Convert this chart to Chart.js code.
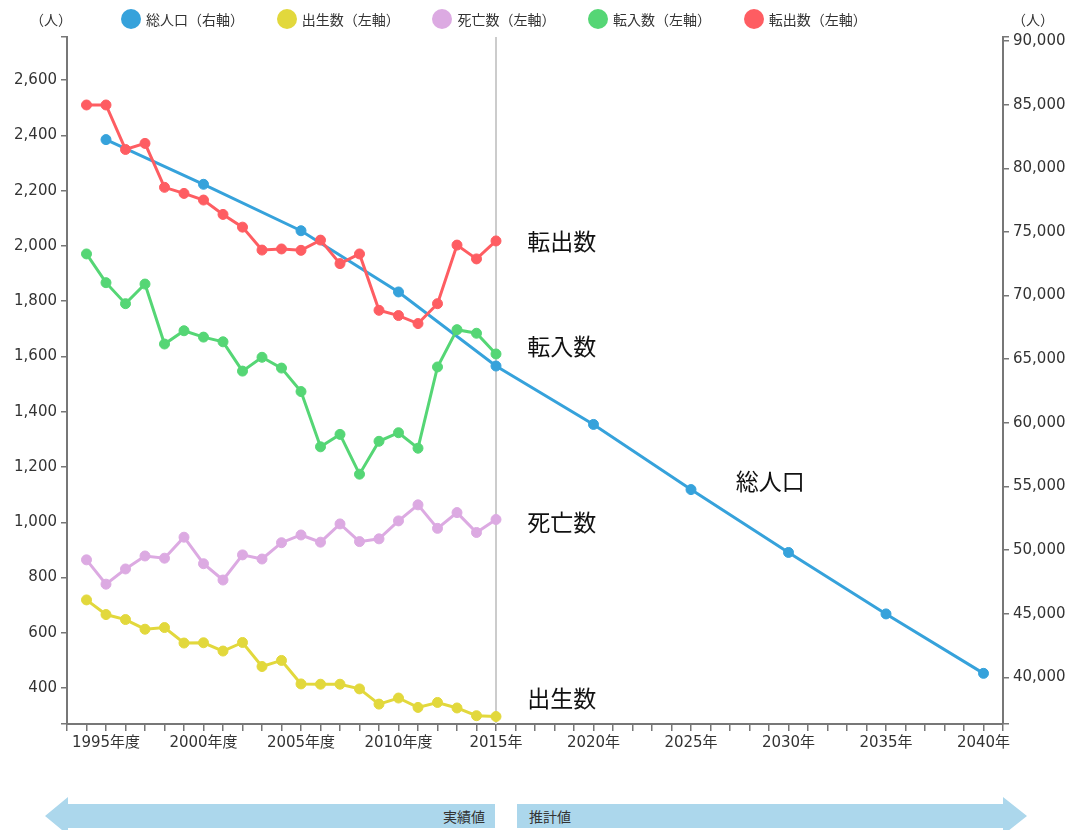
<!DOCTYPE html>
<html lang="ja">
<head>
<meta charset="UTF-8">
<title>人口の推移</title>
<script src="https://cdn.jsdelivr.net/npm/chart.js"></script>
<style>
    body {
        margin: 0;
        background: #fff;
        font-family: 'Noto Sans CJK JP', 'DejaVu Sans', sans-serif;
    }
    #wrap {
        position: relative;
        width: 1074px;
        height: 830px;
        overflow: hidden;
    }
    #chart {
        position: absolute;
        left: 0;
        top: 0;
    }
    .unit {
        position: absolute;
        top: 9px;
        font-size: 14px;
        color: #333;
        line-height: 20px;
    }
    .legend-item {
        position: absolute;
        top: 9px;
        height: 20px;
        font-size: 14px;
        line-height: 20px;
        color: #333;
        white-space: nowrap;
    }
    .legend-item span.dot {
        display: inline-block;
        width: 20px;
        height: 20px;
        border-radius: 50%;
        vertical-align: top;
        margin-right: 5px;
    }
    .arrow {
        position: absolute;
        top: 797px;
        height: 38px;
        background: #acd7ec;
        font-size: 14px;
        line-height: 38px;
        color: #333;
    }
    #past {
        left: 45px;
        width: 450px;
        text-align: right;
        clip-path: polygon(0 19px, 23px 0, 23px 7px, 450px 7px, 450px 31px, 23px 31px, 23px 38px);
    }
    #past span { padding-right: 10px; }
    #future {
        left: 517px;
        width: 510px;
        clip-path: polygon(0 7px, 486px 7px, 486px 0, 510px 19px, 486px 38px, 486px 31px, 0 31px);
    }
    #future span { padding-left: 12px; }
</style>
</head>
<body>
<div id="wrap">
    <canvas id="chart" width="1074" height="830"></canvas>
    <div class="unit" style="left:30px">（人）</div>
    <div class="unit" style="left:1012px">（人）</div>
    <div id="legend"></div>
    <div class="arrow" id="past"><span>実績値</span></div>
    <div class="arrow" id="future"><span>推計値</span></div>
</div>

<script>
    // 実績値（年度）
    const actualYears = [1994, 1995, 1996, 1997, 1998, 1999, 2000, 2001, 2002, 2003, 2004,
                         2005, 2006, 2007, 2008, 2009, 2010, 2011, 2012, 2013, 2014, 2015];
    const births  = [719, 666, 648, 613, 619, 563, 564, 534, 565, 478, 500,
                     415, 414, 414, 397, 342, 364, 330, 348, 328, 300, 297];
    const deaths  = [864, 776, 831, 878, 870, 946, 850, 791, 882, 867, 926,
                     954, 928, 994, 930, 940, 1005, 1063, 978, 1035, 963, 1010];
    const moveIn  = [1971, 1867, 1791, 1862, 1645, 1693, 1670, 1653, 1547, 1597, 1558,
                     1473, 1273, 1318, 1174, 1293, 1324, 1268, 1562, 1697, 1684, 1609];
    const moveOut = [2510, 2510, 2349, 2371, 2212, 2190, 2166, 2114, 2068, 1985, 1989,
                     1984, 2021, 1936, 1971, 1767, 1748, 1719, 1791, 2003, 1953, 2018];

    // 総人口（5年ごと、2015年以降は推計）
    const popYears = [1995, 2000, 2005, 2010, 2015, 2020, 2025, 2030, 2035, 2040];
    const population = [82250, 78740, 75090, 70280, 64460, 59870, 54750, 49810, 44980, 40310];

    const lastActualYear = 2015;

    // 軸の目盛
    const leftTicks = [400, 600, 800, 1000, 1200, 1400, 1600, 1800, 2000, 2200, 2400, 2600];
    const rightTicks = [40000, 45000, 50000, 55000, 60000, 65000, 70000, 75000, 80000, 85000, 90000];
    const yearLabelStep = 5;

    const seriesNames = ['総人口（右軸）', '出生数（左軸）', '死亡数（左軸）', '転入数（左軸）', '転出数（左軸）'];
    const seriesColors = ['#36a2db', '#e2d83c', '#dcaae2', '#55d675', '#fe5d62'];

    // 系列の右側に置く名前
    const endLabels = [
        { text: '転出数', year: 2016.6, value: 2017, axis: 'yL' },
        { text: '転入数', year: 2016.6, value: 1637, axis: 'yL' },
        { text: '死亡数', year: 2016.6, value: 1000, axis: 'yL' },
        { text: '出生数', year: 2016.6, value: 363, axis: 'yL' },
        { text: '総人口', year: 2027.3, value: 55380, axis: 'yR' }
    ];

    function toPoints(xs, ys) {
        return xs.map((x, i) => ({ x: x, y: ys[i] }));
    }

    // 凡例
    const legend = document.getElementById('legend');
    seriesNames.forEach((name, i) => {
        let item = document.createElement('div');
        item.className = 'legend-item';
        item.style.left = (121 + i * 155.7) + 'px';
        item.innerHTML = `<span class="dot" style="background:${seriesColors[i]}"></span>${name}`;
        legend.appendChild(item);
    });

    Chart.defaults.font.family = "'DejaVu Sans', 'Noto Sans CJK JP', sans-serif";
    Chart.defaults.color = '#333';

    function lineSet(label, data, color, axis, order) {
        return {
            label: label,
            data: data,
            yAxisID: axis,
            borderColor: color,
            backgroundColor: color,
            borderWidth: 3,
            pointRadius: 5,
            pointBorderWidth: 1,
            pointBorderColor: color,
            pointBackgroundColor: color,
            tension: 0,
            order: order
        };
    }

    // 2015年の区切り線
    const dividerLine = {
        id: 'dividerLine',
        beforeDatasetsDraw(chart) {
            const x = chart.scales.x.getPixelForValue(lastActualYear);
            const { top, bottom } = chart.chartArea;
            const ctx = chart.ctx;
            ctx.save();
            ctx.strokeStyle = '#cccccc';
            ctx.lineWidth = 2;
            ctx.beginPath();
            ctx.moveTo(x, top);
            ctx.lineTo(x, bottom);
            ctx.stroke();
            ctx.restore();
        }
    };

    const seriesLabels = {
        id: 'seriesLabels',
        afterDatasetsDraw(chart) {
            const ctx = chart.ctx;
            ctx.save();
            ctx.font = "23px 'Noto Sans CJK JP'";
            ctx.fillStyle = '#111';
            ctx.textAlign = 'left';
            ctx.textBaseline = 'middle';
            endLabels.forEach(l => {
                const x = chart.scales.x.getPixelForValue(l.year);
                const y = chart.scales[l.axis].getPixelForValue(l.value);
                ctx.fillText(l.text, x, y);
            });
            ctx.restore();
        }
    };

    const axisColor = '#777';

    function fixedTicks(values) {
        return function (scale) {
            const list = [scale.min].concat(values).concat([scale.max]);
            scale.ticks = list.map(v => ({ value: v }));
        };
    }

    const ctx = document.getElementById('chart').getContext('2d');
    const chart = new Chart(ctx, {
        type: 'line',
        data: {
            datasets: [
                lineSet(seriesNames[0], toPoints(popYears, population), seriesColors[0], 'yR', 5),
                lineSet(seriesNames[1], toPoints(actualYears, births), seriesColors[1], 'yL', 4),
                lineSet(seriesNames[2], toPoints(actualYears, deaths), seriesColors[2], 'yL', 3),
                lineSet(seriesNames[3], toPoints(actualYears, moveIn), seriesColors[3], 'yL', 2),
                lineSet(seriesNames[4], toPoints(actualYears, moveOut), seriesColors[4], 'yL', 1)
            ]
        },
        options: {
            responsive: false,
            animation: false,
            layout: { padding: { top: 37, bottom: 76, left: 0, right: 0 } },
            plugins: {
                legend: { display: false },
                tooltip: { enabled: false }
            },
            scales: {
                x: {
                    type: 'linear',
                    min: 1993,
                    max: 2041,
                    afterFit: s => { s.height = 30; },
                    border: { display: true, color: axisColor, width: 2 },
                    grid: { drawOnChartArea: false, drawTicks: true, tickLength: 7, color: axisColor, lineWidth: 1.5 },
                    ticks: {
                        stepSize: 1,
                        maxTicksLimit: 100,
                        autoSkip: false,
                        maxRotation: 0,
                        padding: 3,
                        font: { size: 15 },
                        callback: function (v) {
                            if (v % yearLabelStep !== 0) return '';
                            return v <= 2010 ? v + '年度' : v + '年';
                        }
                    }
                },
                yL: {
                    type: 'linear',
                    position: 'left',
                    min: 270,
                    max: 2756,
                    afterFit: s => { s.width = 67; },
                    afterBuildTicks: fixedTicks(leftTicks),
                    border: { display: true, color: axisColor, width: 2 },
                    grid: { drawOnChartArea: false, drawTicks: true, tickLength: 6, color: axisColor, lineWidth: 1.5 },
                    ticks: {
                        padding: 4,
                        font: { size: 15 },
                        callback: v => leftTicks.includes(v) ? v.toLocaleString('en-US') : ''
                    }
                },
                yR: {
                    type: 'linear',
                    position: 'right',
                    min: 36330,
                    max: 90314,
                    afterFit: s => { s.width = 71; },
                    afterBuildTicks: fixedTicks(rightTicks),
                    border: { display: true, color: axisColor, width: 2 },
                    grid: { drawOnChartArea: false, drawTicks: true, tickLength: 6, color: axisColor, lineWidth: 1.5 },
                    ticks: {
                        padding: 4,
                        font: { size: 15 },
                        callback: v => rightTicks.includes(v) ? v.toLocaleString('en-US') : ''
                    }
                }
            }
        },
        plugins: [dividerLine, seriesLabels]
    });
</script>
</body>
</html>
